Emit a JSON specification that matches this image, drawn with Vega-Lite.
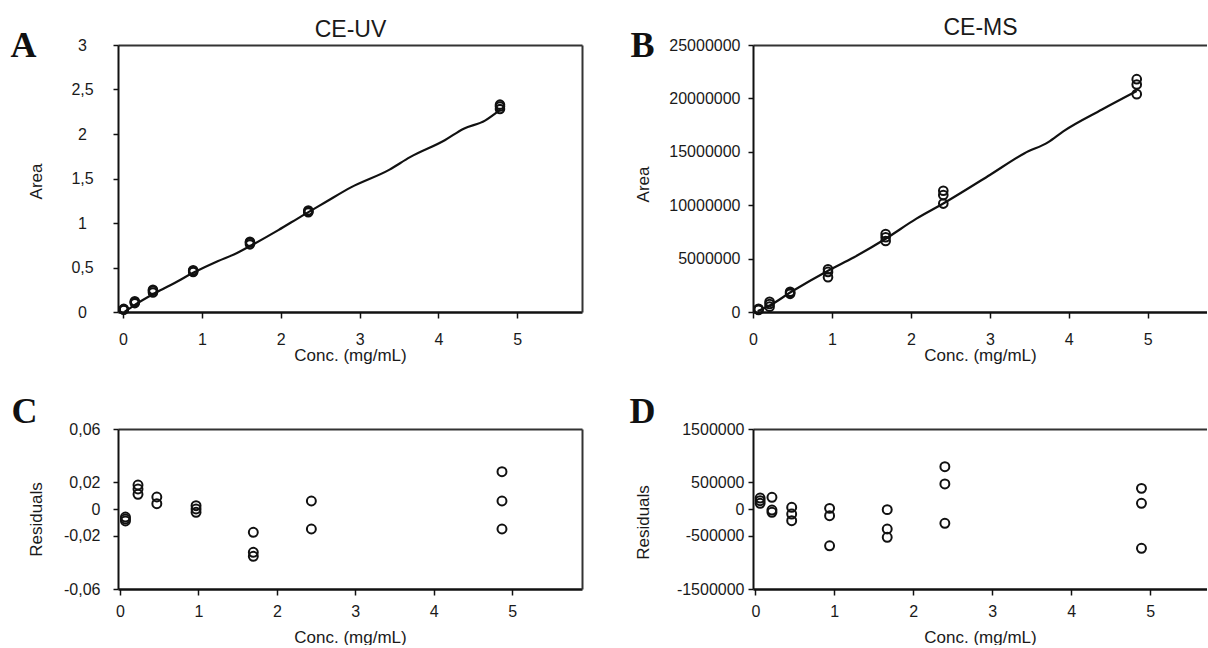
{
  "$schema": "https://vega.github.io/schema/vega-lite/v6.json",
  "background": "white",
  "padding": {"left": 10, "top": 16, "right": 0, "bottom": 0},
  "autosize": {"type": "pad"},
  "bounds": "flush",
  "columns": 2,
  "spacing": {"row": 117, "column": 171},
  "datasets": {
    "A_pts": [
      {"conc": 0.01, "area": 0.025}, {"conc": 0.01, "area": 0.03}, {"conc": 0.01, "area": 0.035},
      {"conc": 0.15, "area": 0.10}, {"conc": 0.15, "area": 0.11}, {"conc": 0.15, "area": 0.12},
      {"conc": 0.38, "area": 0.22}, {"conc": 0.38, "area": 0.24}, {"conc": 0.38, "area": 0.25},
      {"conc": 0.89, "area": 0.45}, {"conc": 0.89, "area": 0.46}, {"conc": 0.89, "area": 0.47},
      {"conc": 1.61, "area": 0.76}, {"conc": 1.61, "area": 0.78}, {"conc": 1.61, "area": 0.79},
      {"conc": 2.35, "area": 1.12}, {"conc": 2.35, "area": 1.13}, {"conc": 2.35, "area": 1.14},
      {"conc": 4.78, "area": 2.28}, {"conc": 4.78, "area": 2.31}, {"conc": 4.78, "area": 2.33}
    ],
    "A_line": [
      {"conc": 0.02, "area": 0.0}, {"conc": 0.15, "area": 0.08}, {"conc": 0.38, "area": 0.2},
      {"conc": 0.6, "area": 0.3}, {"conc": 0.89, "area": 0.44}, {"conc": 1.2, "area": 0.57},
      {"conc": 1.44, "area": 0.66}, {"conc": 1.61, "area": 0.74}, {"conc": 1.97, "area": 0.92},
      {"conc": 2.27, "area": 1.08}, {"conc": 2.56, "area": 1.23}, {"conc": 2.89, "area": 1.4},
      {"conc": 3.38, "area": 1.6}, {"conc": 3.64, "area": 1.74}, {"conc": 4.08, "area": 1.93},
      {"conc": 4.32, "area": 2.06}, {"conc": 4.59, "area": 2.15}, {"conc": 4.78, "area": 2.27}
    ],
    "B_pts": [
      {"conc": 0.07, "area": 200000}, {"conc": 0.07, "area": 250000}, {"conc": 0.07, "area": 300000},
      {"conc": 0.21, "area": 500000}, {"conc": 0.21, "area": 750000}, {"conc": 0.21, "area": 950000},
      {"conc": 0.47, "area": 1700000}, {"conc": 0.47, "area": 1800000}, {"conc": 0.47, "area": 1900000},
      {"conc": 0.95, "area": 3250000}, {"conc": 0.95, "area": 3750000}, {"conc": 0.95, "area": 4000000},
      {"conc": 1.68, "area": 6650000}, {"conc": 1.68, "area": 7000000}, {"conc": 1.68, "area": 7300000},
      {"conc": 2.41, "area": 10150000}, {"conc": 2.41, "area": 10950000}, {"conc": 2.41, "area": 11350000},
      {"conc": 4.86, "area": 20400000}, {"conc": 4.86, "area": 21300000}, {"conc": 4.86, "area": 21800000}
    ],
    "B_line": [
      {"conc": 0.06, "area": 90000}, {"conc": 0.21, "area": 600000}, {"conc": 0.47, "area": 1820000},
      {"conc": 0.95, "area": 3870000}, {"conc": 1.28, "area": 5130000}, {"conc": 1.68, "area": 6860000},
      {"conc": 2.07, "area": 8740000}, {"conc": 2.41, "area": 10160000}, {"conc": 3.0, "area": 12830000},
      {"conc": 3.44, "area": 14870000}, {"conc": 3.74, "area": 15910000}, {"conc": 3.93, "area": 16920000},
      {"conc": 4.42, "area": 18960000}, {"conc": 4.86, "area": 20690000}
    ],
    "C_pts": [
      {"conc": 0.07, "res": -0.006}, {"conc": 0.07, "res": -0.0075}, {"conc": 0.07, "res": -0.009},
      {"conc": 0.23, "res": 0.018}, {"conc": 0.23, "res": 0.015}, {"conc": 0.23, "res": 0.011},
      {"conc": 0.47, "res": 0.009}, {"conc": 0.47, "res": 0.004},
      {"conc": 0.97, "res": 0.0025}, {"conc": 0.97, "res": 0.0}, {"conc": 0.97, "res": -0.0025},
      {"conc": 1.70, "res": -0.0175}, {"conc": 1.70, "res": -0.0325}, {"conc": 1.70, "res": -0.0355},
      {"conc": 2.44, "res": 0.006}, {"conc": 2.44, "res": -0.015},
      {"conc": 4.87, "res": 0.028}, {"conc": 4.87, "res": 0.006}, {"conc": 4.87, "res": -0.015}
    ],
    "D_pts": [
      {"conc": 0.06, "res": 206000}, {"conc": 0.06, "res": 156000}, {"conc": 0.06, "res": 106000},
      {"conc": 0.21, "res": 219000}, {"conc": 0.21, "res": -19000}, {"conc": 0.21, "res": -62000},
      {"conc": 0.46, "res": 31000}, {"conc": 0.46, "res": -94000}, {"conc": 0.46, "res": -219000},
      {"conc": 0.94, "res": 12000}, {"conc": 0.94, "res": -125000}, {"conc": 0.94, "res": -690000},
      {"conc": 1.67, "res": -12000}, {"conc": 1.67, "res": -375000}, {"conc": 1.67, "res": -530000},
      {"conc": 2.40, "res": 794000}, {"conc": 2.40, "res": 469000}, {"conc": 2.40, "res": -269000},
      {"conc": 4.89, "res": 387000}, {"conc": 4.89, "res": 106000}, {"conc": 4.89, "res": -737000}
    ]
  },
  "concat": [
    {
      "width": 464,
      "height": 267,
      "layer": [
        {
          "data": {"name": "A_line"},
          "mark": {"type": "line", "color": "#111", "strokeWidth": 2.2, "interpolate": "monotone"},
          "encoding": {
            "x": {"field": "conc", "type": "quantitative", "scale": {"domain": [-0.063, 5.82], "nice": false, "zero": false},
              "axis": {"orient": "top", "title": "CE-UV", "labels": false, "ticks": false, "domain": true, "domainColor": "#333", "domainWidth": 2,
                "titleFontSize": 23, "titleX": 232, "titleY": -9, "titleAlign": "center", "titleBaseline": "alphabetic"}},
            "y": {"field": "area", "type": "quantitative", "scale": {"domain": [0, 3], "nice": false},
              "axis": {"orient": "right", "title": "A", "labels": false, "ticks": false, "domain": true, "domainColor": "#333", "domainWidth": 2,
                "titleFont": "Liberation Serif", "titleFontWeight": "bold", "titleFontSize": 36, "titleColor": "#111",
                "titleAngle": 0, "titleAlign": "left", "titleBaseline": "alphabetic", "titleX": -572, "titleY": 11}}
          }
        },
        {
          "data": {"name": "A_pts"},
          "mark": {"type": "point", "shape": "circle", "filled": false, "color": "#111", "opacity": 1, "strokeWidth": 2.2, "size": 70},
          "encoding": {
            "x": {"field": "conc", "type": "quantitative",
              "axis": {"orient": "bottom", "title": "Conc. (mg/mL)", "values": [0, 1, 2, 3, 4, 5], "tickSize": 6, "domainWidth": 2.5, "labelPadding": 13, "titlePadding": 0}},
            "y": {"field": "area", "type": "quantitative",
              "axis": {"orient": "left", "title": "Area", "values": [0, 0.5, 1, 1.5, 2, 2.5, 3],
                "labelExpr": "replace(format(datum.value, '~g'), '.', ',')", "labelAlign": "center", "labelPadding": 31,
                "titleX": -81.5, "titleY": 136, "titleBaseline": "middle", "titleAlign": "center", "titleAngle": -90}}
          }
        }
      ],
      "resolve": {"axis": {"x": "independent", "y": "independent"}}
    },
    {
      "width": 454,
      "height": 267,
      "layer": [
        {
          "data": {"name": "B_line"},
          "mark": {"type": "line", "color": "#111", "strokeWidth": 2.2, "interpolate": "monotone"},
          "encoding": {
            "x": {"field": "conc", "type": "quantitative", "scale": {"domain": [0, 5.75], "nice": false, "zero": false},
              "axis": {"orient": "top", "title": "CE-MS", "labels": false, "ticks": false, "domain": true, "domainColor": "#333", "domainWidth": 2,
                "titleFontSize": 23, "titleX": 227, "titleY": -11, "titleAlign": "center", "titleBaseline": "alphabetic"}},
            "y": {"field": "area", "type": "quantitative", "scale": {"domain": [0, 25000000], "nice": false},
              "axis": {"orient": "right", "title": "B", "labels": false, "ticks": false, "domain": false,
                "titleFont": "Liberation Serif", "titleFontWeight": "bold", "titleFontSize": 36, "titleColor": "#111",
                "titleAngle": 0, "titleAlign": "left", "titleBaseline": "alphabetic", "titleX": -577, "titleY": 11}}
          }
        },
        {
          "data": {"name": "B_pts"},
          "mark": {"type": "point", "shape": "circle", "filled": false, "color": "#111", "opacity": 1, "strokeWidth": 2, "size": 75},
          "encoding": {
            "x": {"field": "conc", "type": "quantitative",
              "axis": {"orient": "bottom", "title": "Conc. (mg/mL)", "values": [0, 1, 2, 3, 4, 5], "tickSize": 6, "domainWidth": 2.5, "labelPadding": 13, "titlePadding": 0}},
            "y": {"field": "area", "type": "quantitative",
              "axis": {"orient": "left", "title": "Area", "values": [0, 5000000, 10000000, 15000000, 20000000, 25000000],
                "format": "d", "labelPadding": 8,
                "titleX": -110, "titleY": 139, "titleBaseline": "middle", "titleAlign": "center", "titleAngle": -90}}
          }
        }
      ],
      "resolve": {"axis": {"x": "independent", "y": "independent"}}
    },
    {
      "width": 464,
      "height": 160,
      "layer": [
        {
          "mark": {"type": "rule", "color": "#111", "strokeWidth": 2.5},
          "encoding": {"y": {"datum": 0, "type": "quantitative", "axis": null}}
        },
        {
          "data": {"name": "C_pts"},
          "mark": {"type": "point", "shape": "circle", "filled": false, "color": "#111", "opacity": 1, "strokeWidth": 2, "size": 80},
          "encoding": {
            "x": {"field": "conc", "type": "quantitative", "scale": {"domain": [-0.025, 5.89], "nice": false, "zero": false},
              "axis": {"orient": "bottom", "title": "Conc. (mg/mL)", "values": [0, 1, 2, 3, 4, 5], "tickSize": 6, "domainWidth": 2.5, "labelPadding": 8, "titlePadding": 10}},
            "y": {"field": "res", "type": "quantitative", "scale": {"domain": [-0.06, 0.06], "nice": false, "zero": false},
              "axis": {"orient": "left", "title": "Residuals", "values": [-0.06, -0.02, 0, 0.02, 0.06],
                "labelExpr": "replace(replace(format(datum.value, '~g'), '.', ','), '\u2212', '-')", "labelPadding": 13,
                "titleX": -82, "titleY": 90, "titleBaseline": "middle", "titleAlign": "center", "titleAngle": -90}}
          }
        },
        {
          "data": {"name": "C_pts"},
          "mark": {"type": "point", "opacity": 0},
          "encoding": {
            "x": {"field": "conc", "type": "quantitative",
              "axis": {"orient": "top", "title": null, "labels": false, "ticks": false, "domain": true, "domainColor": "#333", "domainWidth": 2}},
            "y": {"field": "res", "type": "quantitative",
              "axis": {"orient": "right", "title": "C", "labels": false, "ticks": false, "domain": true, "domainColor": "#333", "domainWidth": 2,
                "titleFont": "Liberation Serif", "titleFontWeight": "bold", "titleFontSize": 36, "titleColor": "#111",
                "titleAngle": 0, "titleAlign": "left", "titleBaseline": "alphabetic", "titleX": -571, "titleY": -7}}
          }
        }
      ],
      "resolve": {"axis": {"x": "independent", "y": "independent"}}
    },
    {
      "width": 454,
      "height": 160,
      "layer": [
        {
          "mark": {"type": "rule", "color": "#111", "strokeWidth": 2.5},
          "encoding": {"y": {"datum": 0, "type": "quantitative", "axis": null}}
        },
        {
          "data": {"name": "D_pts"},
          "mark": {"type": "point", "shape": "circle", "filled": false, "color": "#111", "opacity": 1, "strokeWidth": 2, "size": 80},
          "encoding": {
            "x": {"field": "conc", "type": "quantitative", "scale": {"domain": [-0.03, 5.72], "nice": false, "zero": false},
              "axis": {"orient": "bottom", "title": "Conc. (mg/mL)", "values": [0, 1, 2, 3, 4, 5], "tickSize": 6, "domainWidth": 2.5, "labelPadding": 8, "titlePadding": 10}},
            "y": {"field": "res", "type": "quantitative", "scale": {"domain": [-1500000, 1500000], "nice": false, "zero": false},
              "axis": {"orient": "left", "title": "Residuals", "values": [-1500000, -500000, 0, 500000, 1500000],
                "labelExpr": "replace(format(datum.value, 'd'), '\u2212', '-')", "labelPadding": 4,
                "titleX": -110, "titleY": 93, "titleBaseline": "middle", "titleAlign": "center", "titleAngle": -90}}
          }
        },
        {
          "data": {"name": "D_pts"},
          "mark": {"type": "point", "opacity": 0},
          "encoding": {
            "x": {"field": "conc", "type": "quantitative",
              "axis": {"orient": "top", "title": null, "labels": false, "ticks": false, "domain": true, "domainColor": "#333", "domainWidth": 2}},
            "y": {"field": "res", "type": "quantitative",
              "axis": {"orient": "right", "title": "D", "labels": false, "ticks": false, "domain": false,
                "titleFont": "Liberation Serif", "titleFontWeight": "bold", "titleFontSize": 36, "titleColor": "#111",
                "titleAngle": 0, "titleAlign": "left", "titleBaseline": "alphabetic", "titleX": -578, "titleY": -7}}
          }
        }
      ],
      "resolve": {"axis": {"x": "independent", "y": "independent"}}
    }
  ],
  "config": {
    "view": {"stroke": null},
    "axis": {
      "grid": false, "labelFlush": false, "labelOverlap": false,
      "domainColor": "#111", "tickColor": "#111", "labelColor": "#1a1a1a", "titleColor": "#1a1a1a",
      "labelFont": "Liberation Sans", "titleFont": "Liberation Sans", "labelFontSize": 16, "titleFontSize": 17,
      "titleFontWeight": "normal", "domainWidth": 2, "tickWidth": 1.5, "tickSize": 5
    }
  }
}
